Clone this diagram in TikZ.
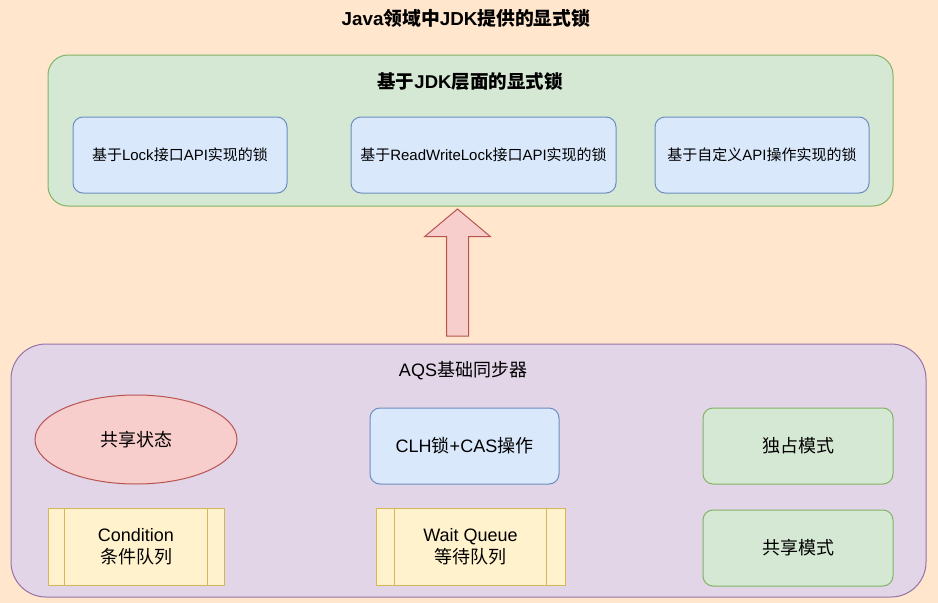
\documentclass[tikz,border=0pt]{standalone}
\usepackage{fontspec}
\setmainfont{Liberation Sans}
\newfontfamily\cjk{Noto Sans CJK SC}
% CJK characters switch to the CJK font
\XeTeXinterchartokenstate=1
\newXeTeXintercharclass\cjkcls
\count255="3000
\loop\XeTeXcharclass\count255=\cjkcls\ifnum\count255<"9FFF\advance\count255 by 1\repeat
\XeTeXinterchartoks 0 \cjkcls = {\cjk}
\XeTeXinterchartoks 4095 \cjkcls = {\cjk}
\XeTeXinterchartoks \cjkcls 0 = {\rmfamily}
\XeTeXinterchartoks \cjkcls 4095 = {\rmfamily}
\usepackage{tikz}
\usetikzlibrary{positioning,shapes.geometric,shapes.arrows}
\definecolor{peach}{HTML}{FFE6CC}
\definecolor{greenfill}{HTML}{D5E8D4}
\definecolor{greenline}{HTML}{82B366}
\definecolor{bluefill}{HTML}{DAE8FC}
\definecolor{blueline}{HTML}{6C8EBF}
\definecolor{purplefill}{HTML}{E1D5E7}
\definecolor{purpleline}{HTML}{9673A6}
\definecolor{redfill}{HTML}{F8CECC}
\definecolor{redline}{HTML}{B85450}
\definecolor{ylwfill}{HTML}{FFF2CC}
\definecolor{ylwline}{HTML}{D6B656}

\begin{document}
\begin{tikzpicture}[x=1pt,y=-1pt,line width=1pt,inner sep=0pt,
   api/.style={draw=blueline,fill=bluefill,rounded corners=10pt,minimum height=76pt,font=\fontsize{15}{18}\selectfont},
   big/.style={minimum height=76pt,align=center,font=\fontsize{18}{22}\selectfont},
   mode/.style={big,draw=greenline,fill=greenfill,rounded corners=10pt,minimum width=190pt},
   queue/.style={big,draw=ylwline,fill=ylwfill,minimum height=77pt},
   uparrow/.style={single arrow,draw=redline,fill=redfill,rotate=90,minimum height=127pt,
      single arrow head extend=22pt,single arrow tip angle=100,inner sep=10.5pt}]
   \useasboundingbox[fill=peach] (0,0) rectangle (938,603);
   \node[font=\bfseries\fontsize{18.8}{22}\selectfont] (title) at (466,18) {Java领域中JDK提供的显式锁};

   % JDK layer
   \node[draw=greenline,fill=greenfill,rounded corners=20pt,minimum width=845pt,minimum height=151pt] (jdk) at (470.5,130.5) {};
   \node[font=\bfseries\fontsize{18.5}{22}\selectfont] (jdktitle) at (470,82) {基于JDK层面的显式锁};
   \node[api,minimum width=214pt] (lock) at (180,155) {基于Lock接口API实现的锁};
   \node[api,minimum width=265pt,right=63pt of lock] (rwlock) {基于ReadWriteLock接口API实现的锁};
   \node[api,minimum width=214pt,right=38pt of rwlock] (custom) {基于自定义API操作实现的锁};

   % AQS layer
   \node[draw=purpleline,fill=purplefill,rounded corners=35pt,minimum width=915pt,minimum height=253pt] (aqs) at (468.5,470.5) {};
   \node[font=\fontsize{18}{22}\selectfont] (aqstitle) at (463,371) {AQS基础同步器};
   \node[big,ellipse,draw=redline,fill=redfill,minimum width=202pt,minimum height=89pt] (state) at (136,439.5) {共享状态};
   \node[big,draw=blueline,fill=bluefill,rounded corners=10pt,minimum width=189pt] (clh) at (464.5,446) {CLH锁+CAS操作};
   \node[mode] (excl) at (798,446) {独占模式};
   \node[mode,below=25pt of excl] (shared) {共享模式};
   \node[queue,minimum width=176pt] (cond) at (136,546.5) {Condition\\条件队列};
   \node[queue,minimum width=189pt] (wait) at (470.5,546.5) {Wait Queue\\等待队列};
   \foreach \q/\g in {cond/17pt,wait/19pt}
      \draw[ylwline] ([xshift=\g]\q.north west) -- ([xshift=\g]\q.south west)
                     ([xshift=-\g]\q.north east) -- ([xshift=-\g]\q.south east);

   \node[uparrow,anchor=tail] (up) at ([yshift=7pt]aqs.north -| 457.5,0) {};
\end{tikzpicture}
\end{document}
